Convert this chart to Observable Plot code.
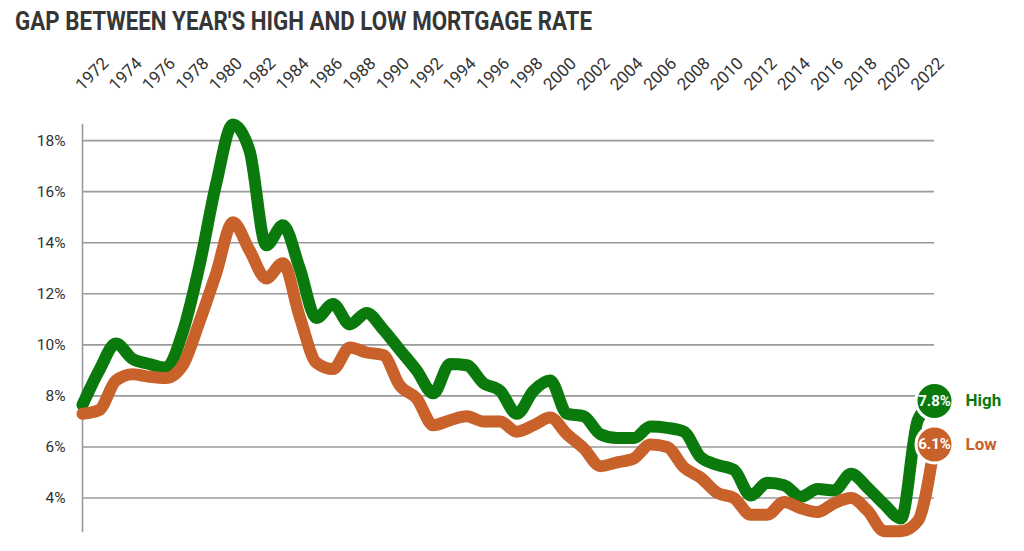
<!DOCTYPE html>
<html>
<head>
<meta charset="utf-8">
<script src="https://cdn.jsdelivr.net/npm/d3@7"></script>
<script src="https://cdn.jsdelivr.net/npm/@observablehq/plot@0.6"></script>
<style>
  html, body { margin: 0; padding: 0; background: #fff; }
  body { width: 1024px; height: 551px; overflow: hidden; font-family: Roboto, "DejaVu Sans", sans-serif; }
  #title { display: block; }
</style>
</head>
<body>
<svg id="title" width="1024" height="40">
  <text x="15" y="30" font-family="Roboto" font-weight="700" font-size="26" fill="#363636"
        textLength="577" lengthAdjust="spacingAndGlyphs">GAP BETWEEN YEAR'S HIGH AND LOW MORTGAGE RATE</text>
</svg>
<div id="chart"></div>
<script>
// ---- data ----
const years = [1972,1973,1974,1975,1976,1977,1978,1979,1980,1981,1982,1983,1984,1985,1986,1987,1988,1989,1990,1991,1992,1993,1994,1995,1996,1997,1998,1999,2000,2001,2002,2003,2004,2005,2006,2007,2008,2009,2010,2011,2012,2013,2014,2015,2016,2017,2018,2019,2020,2021,2022,2023];
const highRate = [7.65,9.0,10.05,9.45,9.25,9.1,10.5,13.1,16.3,18.63,17.6,13.9,14.68,13.0,11.05,11.6,10.8,11.25,10.6,9.8,9.0,8.1,9.25,9.2,8.5,8.2,7.3,8.2,8.6,7.3,7.2,6.5,6.35,6.35,6.8,6.75,6.6,5.6,5.3,5.1,4.1,4.6,4.5,4.05,4.35,4.3,4.95,4.4,3.75,3.2,7.05,7.8];
const lowRate = [7.3,7.45,8.6,8.85,8.75,8.7,9.2,10.9,12.8,14.8,13.7,12.6,13.2,11.1,9.3,9.05,9.9,9.7,9.6,8.4,7.9,6.85,7.05,7.2,7.0,7.0,6.6,6.85,7.15,6.5,5.95,5.25,5.4,5.55,6.1,6.0,5.2,4.8,4.2,4.0,3.35,3.35,3.85,3.6,3.45,3.8,4.0,3.5,2.7,2.7,3.1,6.1];
const yTicks = [4,6,8,10,12,14,16,18];
const xTickYears = [1972,1974,1976,1978,1980,1982,1984,1986,1988,1990,1992,1994,1996,1998,2000,2002,2004,2006,2008,2010,2012,2014,2016,2018,2020,2022];
const seriesNames = {high: "High", low: "Low"};

const GREEN = "#0b7a0d";
const ORANGE = "#c8612a";

const rows = years.map((year, i) => ({year, high: highRate[i], low: lowRate[i]}));
const last = [rows[rows.length - 1]];

const chart = Plot.plot({
  width: 1024,
  height: 511,
  marginLeft: 82,
  marginRight: 90,
  marginTop: 84,
  marginBottom: 20,
  x: {domain: [1972, 2023], axis: null},
  y: {domain: [2.69, 18.63], axis: null},
  style: {fontFamily: "Roboto, sans-serif", color: "#333", background: "white", overflow: "visible"},
  marks: [
    Plot.ruleY(yTicks, {stroke: "#9a9a9a", strokeWidth: 1.6}),
    Plot.frame({anchor: "left", stroke: "#9a9a9a", strokeWidth: 1.6}),
    Plot.axisY(yTicks, {tickSize: 0, tickPadding: 17, tickFormat: d => d + "%", fontSize: 15.5, label: null, fill: "#333"}),
    Plot.text(xTickYears, {x: d => d, text: d => String(d), frameAnchor: "top", dy: -33, rotate: -45,
      textAnchor: "start", lineAnchor: "bottom", fontSize: 17, fill: "#333"}),
    Plot.line(rows, {x: "year", y: "high", stroke: GREEN, strokeWidth: 12, curve: "monotone-x"}),
    Plot.line(rows, {x: "year", y: "low", stroke: ORANGE, strokeWidth: 12, curve: "monotone-x"}),
    Plot.dot(last, {x: "year", y: "high", r: 18.5, fill: GREEN, stroke: "white", strokeWidth: 3}),
    Plot.dot(last, {x: "year", y: "low", r: 18.5, fill: ORANGE, stroke: "white", strokeWidth: 3}),
    Plot.text(last, {x: "year", y: "high", text: d => d.high.toFixed(1) + "%", fill: "white", fontWeight: 700, fontSize: 15}),
    Plot.text(last, {x: "year", y: "low", text: d => d.low.toFixed(1) + "%", fill: "white", fontWeight: 700, fontSize: 15}),
    Plot.text(last, {x: "year", y: "high", text: () => seriesNames.high, dx: 31, textAnchor: "start", fill: GREEN, fontWeight: 700, fontSize: 17}),
    Plot.text(last, {x: "year", y: "low", text: () => seriesNames.low, dx: 31, textAnchor: "start", fill: ORANGE, fontWeight: 700, fontSize: 17})
  ]
});
document.getElementById("chart").appendChild(chart);
</script>
</body>
</html>
